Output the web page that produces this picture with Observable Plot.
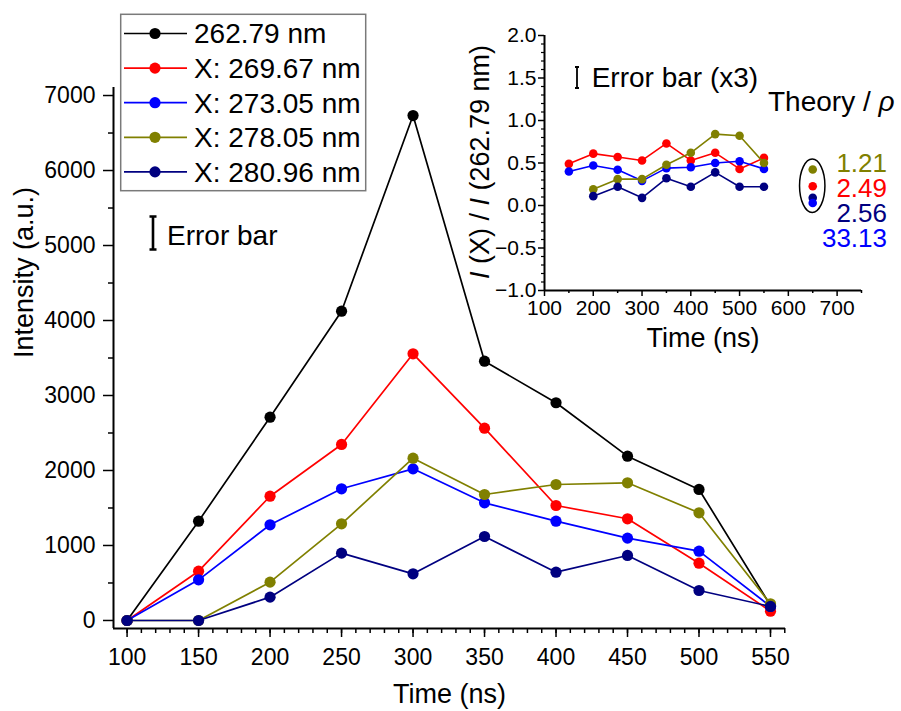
<!DOCTYPE html>
<html><head><meta charset="utf-8">
<script src="https://cdn.jsdelivr.net/npm/d3@7"></script>
<script src="https://cdn.jsdelivr.net/npm/@observablehq/plot@0.6"></script>
<style>
html,body{margin:0;padding:0;background:#fff;}
#wrap{position:relative;width:901px;height:711px;overflow:hidden;font-family:"Liberation Sans",Arial,sans-serif;}
#wrap svg{position:absolute;left:0;top:0;}
</style></head><body><div id="wrap"></div>
<script>
// ---------- data ----------
const times = [100,150,200,250,300,350,400,450,500,550];
const seriesNames = ["262.79 nm","X: 269.67 nm","X: 273.05 nm","X: 278.05 nm","X: 280.96 nm"];
const seriesColors = ["#000000","#ff0000","#0000ff","#808000","#000080"];
const int26279 = [0,1324,2711,4124,6733,3457,2903,2191,1747,200];
const int26967 = [0,657,1657,2347,3556,2564,1533,1356,764,124];
const int27305 = [0,542,1276,1756,2022,1569,1324,1098,924,187];
const int27805 = [0,0,511,1289,2164,1680,1813,1836,1436,222];
const int28096 = [0,0,311,898,622,1120,644,867,400,187];

const ratioTimes = [150,200,250,300,350,400,450,500,550];
const ratio26967 = [0.49,0.61,0.57,0.53,0.73,0.53,0.62,0.43,0.56];
const ratio27305 = [0.40,0.47,0.42,0.29,0.44,0.45,0.50,0.52,0.43];
const ratio27805 = [null,0.19,0.31,0.31,0.48,0.62,0.84,0.82,0.50];
const ratio28096 = [null,0.11,0.22,0.09,0.32,0.22,0.39,0.22,0.22];

const theoryTime = 650;
const theoryDotY = [0.424,0.227,0.09,0.03];
const theoryDotColors = ["#808000","#ff0000","#000080","#0000ff"];
const theoryRho = ["1.21","2.49","2.56","33.13"];
const theoryColors = ["#808000","#ff0000","#000080","#0000ff"];

const mainXTicks = [100,150,200,250,300,350,400,450,500,550];
const mainYTicks = [0,1000,2000,3000,4000,5000,6000,7000];
const insetXTicks = [100,200,300,400,500,600,700];
const insetYTicks = [-1.0,-0.5,0.0,0.5,1.0,1.5,2.0];

// ---------- build ----------
const FONT = '"Liberation Sans", Arial, sans-serif';
const mainVals = [int26279,int26967,int27305,int27805,int28096];
const ratioVals = [null,ratio26967,ratio27305,ratio27805,ratio28096];
const mainX = [90.5,560.5], mainY = [-107,7107];

const mainMarks = [];
mainVals.forEach((vals,i)=>{
  const d = times.map((t,j)=>({t, v: vals[j]}));
  mainMarks.push(Plot.line(d,{x:"t",y:"v",stroke:seriesColors[i],strokeWidth:1.7}));
  mainMarks.push(Plot.dot(d,{x:"t",y:"v",fill:seriesColors[i],r:5.6}));
});

const mainPlot = Plot.plot({
  width:901, height:711, marginLeft:113, marginRight:116, marginTop:87, marginBottom:83,
  x:{domain:mainX}, y:{domain:mainY},
  style:{fontFamily:FONT, background:"none", overflow:"visible"},
  marks:[
    Plot.axisX({ticks:mainXTicks, tickSize:9, tickPadding:11, fontSize:23, label:null, strokeWidth:1.5, tickFormat:d3.format("d")}),
    Plot.axisX({ticks:d3.range(100,561,10), tickSize:5, text:null, label:null, strokeWidth:1.5}),
    Plot.axisY({ticks:mainYTicks, tickSize:10, tickPadding:8, fontSize:23, label:null, strokeWidth:1.5, tickFormat:d3.format("d")}),
    Plot.axisY({ticks:d3.range(500,7000,1000), tickSize:5, text:null, label:null, strokeWidth:1.5}),
    Plot.ruleY([mainY[0]],{strokeWidth:2}),
    Plot.ruleX([mainX[0]],{strokeWidth:2}),
    ...mainMarks,
    Plot.text(["Time (ns)"],{frameAnchor:"bottom", dy:66, fontSize:27, lineAnchor:"middle"}),
    Plot.text(["Intensity (a.u.)"],{frameAnchor:"left", dx:-89, rotate:-90, fontSize:27, lineAnchor:"middle"})
  ]
});

const insetX = [100,750], insetY = [-1,2];
const insetMarks = [];
[1,2,3,4].forEach(i=>{
  const d = ratioTimes.map((t,j)=>({t, v: ratioVals[i][j]}));
  insetMarks.push(Plot.line(d,{x:"t",y:"v",stroke:seriesColors[i],strokeWidth:1.6}));
  insetMarks.push(Plot.dot(d,{x:"t",y:"v",fill:seriesColors[i],r:4.3}));
});
const theoryData = theoryDotY.map((y,i)=>({t:theoryTime, v:y, c:theoryDotColors[i]}));

const insetPlot = Plot.plot({
  width:901, height:360, marginLeft:544, marginRight:40, marginTop:35, marginBottom:70,
  x:{domain:insetX}, y:{domain:insetY},
  style:{fontFamily:FONT, background:"none", overflow:"visible"},
  marks:[
    Plot.axisX({ticks:insetXTicks, tickSize:6, tickPadding:4, fontSize:21, label:null, strokeWidth:1.5, tickFormat:d3.format("d")}),
    Plot.axisX({ticks:d3.range(150,751,100), tickSize:3, text:null, label:null, strokeWidth:1.5}),
    Plot.axisY({ticks:insetYTicks, tickSize:6, tickPadding:2, fontSize:21, label:null, strokeWidth:1.5, tickFormat:d3.format(".1f")}),
    Plot.axisY({ticks:d3.range(-10,21,1).map(k=>k/10).filter(v=>Math.abs(v*2-Math.round(v*2))>1e-6), tickSize:3, text:null, label:null, strokeWidth:1.2}),
    Plot.ruleY([insetY[0]],{strokeWidth:2}),
    Plot.ruleX([insetX[0]],{strokeWidth:2}),
    ...insetMarks,
    Plot.dot(theoryData,{x:"t",y:"v",fill:"c",r:4.3}),
    Plot.text(["Time (ns)"],{frameAnchor:"bottom", dy:48, fontSize:27, lineAnchor:"middle"})
  ]
});

const wrap = document.getElementById("wrap");
wrap.appendChild(mainPlot);
wrap.appendChild(insetPlot);

// ---------- annotations (main) ----------
const ms = d3.select(mainPlot);
const g = ms.append("g").attr("font-family",FONT).attr("text-anchor","start");
g.append("rect").attr("x",120.7).attr("y",14.3).attr("width",245).attr("height",176.4)
  .attr("fill","#fff").attr("stroke","#7a7a7a").attr("stroke-width",1.5);
seriesNames.forEach((name,i)=>{
  const cy = 33.5 + 34.6*i;
  g.append("line").attr("x1",124).attr("x2",187).attr("y1",cy).attr("y2",cy)
    .attr("stroke",seriesColors[i]).attr("stroke-width",1.7);
  g.append("circle").attr("cx",155).attr("cy",cy).attr("r",5.6).attr("fill",seriesColors[i]);
  g.append("text").attr("x",194).attr("y",cy).attr("dy","0.35em").attr("font-size",28)
    .attr("text-anchor","start").attr("fill","#000").text(name);
});
// error bar
g.append("path").attr("d","M149.5,216.5H156.5M153,216.5V249.5M149.5,249.5H156.5").attr("stroke","#000").attr("stroke-width",2.6).attr("fill","none");
g.append("text").attr("x",167).attr("y",245).attr("font-size",28).attr("text-anchor","start").attr("fill","#000").text("Error bar");

// ---------- annotations (inset) ----------
const is = d3.select(insetPlot);
const gi = is.append("g").attr("font-family",FONT).attr("text-anchor","start");
const sx = insetPlot.scale("x"), sy = insetPlot.scale("y");
// y label
const yl = gi.append("text").attr("transform","translate(489,162) rotate(-90)").attr("text-anchor","middle")
  .attr("font-size",27).attr("fill","#000");
yl.append("tspan").attr("font-style","italic").text("I");
yl.append("tspan").text(" (X) / ");
yl.append("tspan").attr("font-style","italic").text("I");
yl.append("tspan").text(" (262.79 nm)");
// error bar x3
gi.append("path").attr("d","M575,67H579M577,67V88M575,88H579").attr("stroke","#000").attr("stroke-width",1.8).attr("fill","none");
gi.append("text").attr("x",591.7).attr("y",86.7).attr("font-size",28).attr("text-anchor","start").attr("fill","#000").text("Error bar (x3)");
// Theory / rho
const th = gi.append("text").attr("x",768).attr("y",111).attr("font-size",28).attr("text-anchor","start").attr("fill","#000");
th.append("tspan").text("Theory / ");
th.append("tspan").attr("font-style","italic").text("ρ");
// ellipse around theory dots
const ex = sx.apply(theoryTime);
const ey = (sy.apply(theoryDotY[0]) + sy.apply(theoryDotY[3]))/2;
gi.append("ellipse").attr("cx",ex).attr("cy",ey).attr("rx",12.7).attr("ry",26.7)
  .attr("fill","none").attr("stroke","#000").attr("stroke-width",1.5);
theoryRho.forEach((s,i)=>{
  gi.append("text").attr("x",887).attr("y",172 + 25*i).attr("text-anchor","end")
    .attr("font-size",26).attr("fill",theoryColors[i]).text(s);
});
</script></body></html>
